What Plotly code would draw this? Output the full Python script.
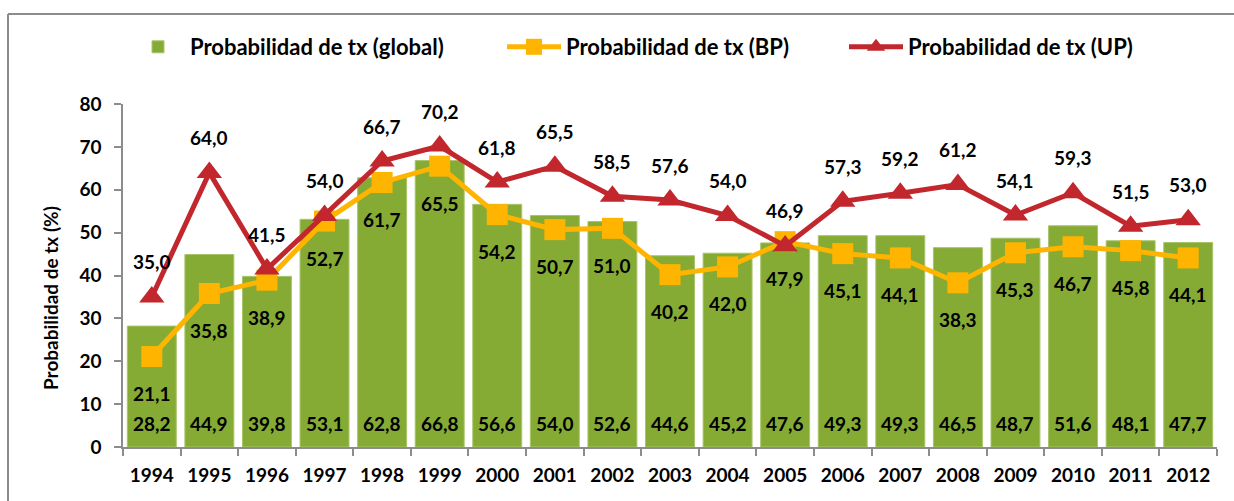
import plotly.graph_objects as go

years = ["1994", "1995", "1996", "1997", "1998", "1999", "2000", "2001", "2002", "2003",
         "2004", "2005", "2006", "2007", "2008", "2009", "2010", "2011", "2012"]
global_vals = [28.2, 44.9, 39.8, 53.1, 62.8, 66.8, 56.6, 54.0, 52.6, 44.6,
               45.2, 47.6, 49.3, 49.3, 46.5, 48.7, 51.6, 48.1, 47.7]
bp_vals = [21.1, 35.8, 38.9, 52.7, 61.7, 65.5, 54.2, 50.7, 51.0, 40.2,
           42.0, 47.9, 45.1, 44.1, 38.3, 45.3, 46.7, 45.8, 44.1]
up_vals = [35.0, 64.0, 41.5, 54.0, 66.7, 70.2, 61.8, 65.5, 58.5, 57.6,
           54.0, 46.9, 57.3, 59.2, 61.2, 54.1, 59.3, 51.5, 53.0]
names = ["Probabilidad de tx (global)", "Probabilidad de tx (BP)", "Probabilidad de tx (UP)"]
y_title = "Probabilidad de tx (%)"
y_ticks = [0, 10, 20, 30, 40, 50, 60, 70, 80]

FONT = "Lato"
GREEN = "#85AB35"
ORANGE = "#FFB400"
RED = "#C1272D"
AXIS = "#8C8C8C"

L, R, T, B = 123, 17, 104, 54
W, H = 1234, 501
PW, PH = W - L - R, H - T - B


def fmt(v):
    return f"{v:.1f}".replace(".", ",")


fig = go.Figure()
fig.add_trace(go.Bar(
    x=years, y=global_vals, name=names[0],
    marker=dict(color=GREEN, line=dict(color="#A9C46A", width=1)),
    legendwidth=307,
))
fig.add_trace(go.Scatter(
    x=years, y=bp_vals, name=names[1], mode="lines+markers",
    line=dict(color=ORANGE, width=5),
    marker=dict(symbol="square", size=21, color=ORANGE),
    legendwidth=273,
))
fig.add_trace(go.Scatter(
    x=years, y=up_vals, name=names[2], mode="lines+markers",
    line=dict(color=RED, width=5),
    marker=dict(symbol="triangle-up", size=22, color=RED),
))

lab_font = dict(family=FONT, size=19, color="black", weight="bold")
annotations = []
for i, (g, b, u) in enumerate(zip(global_vals, bp_vals, up_vals)):
    annotations.append(dict(x=i, y=0, text=fmt(g), showarrow=False, yshift=24,
                            font=lab_font, xref="x", yref="y"))
    annotations.append(dict(x=i, y=b, text=fmt(b), showarrow=False, yshift=-37,
                            font=lab_font, xref="x", yref="y"))
    annotations.append(dict(x=i, y=u, text=fmt(u), showarrow=False, yshift=35,
                            font=lab_font, xref="x", yref="y"))
annotations.append(dict(x=(50 - L) / PW, y=1 - (298 - T) / PH, xref="paper", yref="paper",
                        xanchor="center", yanchor="middle",
                        text=y_title, textangle=-90, showarrow=False,
                        font=dict(family=FONT, size=19, color="black", weight="bold")))

bx0 = (8 - L) / PW
by1 = 1 + (T - 14) / PH
fig.update_layout(
    width=W, height=H,
    margin=dict(l=L, r=R, t=T, b=B),
    paper_bgcolor="white", plot_bgcolor="white",
    font=dict(family=FONT, size=19, color="black", weight="bold"),
    bargap=0.15,
    showlegend=True,
    legend=dict(orientation="h", x=(126 - L) / PW, xanchor="left",
                y=1 + (T - 47) / PH, yanchor="middle",
                itemwidth=54, font=dict(family=FONT, size=22, color="black", weight="bold"),
                bgcolor="rgba(0,0,0,0)", traceorder="normal"),
    annotations=annotations,
    shapes=[
        dict(type="line", xref="paper", yref="paper", x0=bx0, x1=1.1, y0=by1, y1=by1,
             line=dict(color=AXIS, width=2)),
        dict(type="line", xref="paper", yref="paper", x0=bx0, x1=bx0, y0=-0.3, y1=by1,
             line=dict(color=AXIS, width=2)),
    ],
)
fig.update_xaxes(
    type="category", range=[-0.5, len(years) - 0.5], showgrid=False,
    showline=True, linecolor=AXIS, linewidth=1.5,
    ticks="outside", tickson="boundaries", ticklen=7, tickcolor=AXIS, tickwidth=1.5,
    ticklabelstandoff=10, tickangle=0,
    tickfont=dict(family=FONT, size=19, color="black", weight="bold"),
)
fig.update_yaxes(
    range=[0, 80], tickvals=y_ticks, showgrid=False, zeroline=False,
    showline=True, linecolor=AXIS, linewidth=1.5,
    ticks="outside", ticklen=7, tickcolor=AXIS, tickwidth=1.5,
    ticklabelstandoff=9, tickfont=dict(family=FONT, size=19, color="black", weight="bold"),
)
fig.write_html("out.html", config={"displayModeBar": False},
               post_script="document.body.style.margin='0';document.body.style.overflow='hidden';")
